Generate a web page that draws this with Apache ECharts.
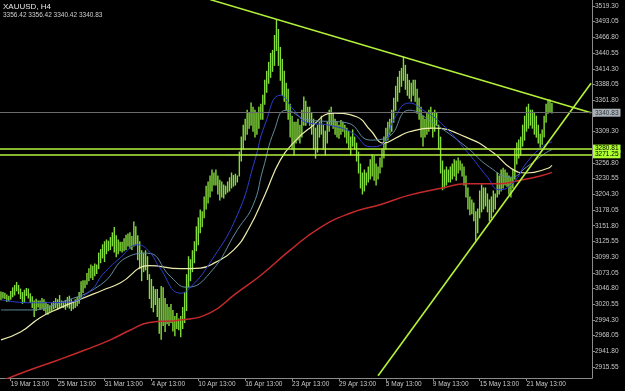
<!DOCTYPE html>
<html><head><meta charset="utf-8">
<script src="https://cdn.jsdelivr.net/npm/echarts@6/dist/echarts.min.js"></script>
<style>html,body{margin:0;padding:0;background:#000}#c{width:625px;height:391px}</style>
</head><body><div id="c"></div>
<script>
const symbolTitle = 'XAUUSD, H4';
const lastOHLC = '3356.42 3356.42 3340.42 3340.83';
const tickLabels = ['19 Mar 13:00','25 Mar 13:00','31 Mar 13:00','4 Apr 13:00','10 Apr 13:00','16 Apr 13:00','23 Apr 13:00','29 Apr 13:00','5 May 13:00','9 May 13:00','15 May 13:00','21 May 13:00'];
const tickBars = [5,29,53,77,101,125,149,173,197,221,245,269];
const slotCount = 303;
const priceTicks = [3519.30,3493.05,3466.80,3440.55,3414.30,3388.05,3361.80,3335.55,3309.30,3283.05,3256.80,3230.55,3204.30,3178.05,3151.80,3125.55,3099.30,3073.05,3046.80,3020.55,2994.30,2968.05,2941.80,2915.55];
const hiddenPriceLabels = [3335.55,3283.05];
const yMin = 2897.2, yMax = 3529.3;

const lows = [
3028,3031,
3030,3025,3026,3029,3033,3036,
3043,3038,3030,3022,3024,3035,
3031,3024,3015,3000,3010,3016,
3012,3014,3010,3005,3004,3008,
3010,3013,3015,3012,3014,3016,
3015,3012,3016,3014,3010,3013,
3015,3018,3022,3030,3040,3048,
3054,3060,3065,3062,3068,3072,
3080,3090,3098,3092,3105,3110,
3112,3118,3108,3100,3105,3110,
3108,3110,3112,3118,3114,3112,
3118,3120,3095,3080,3060,3075,
3078,3062,3030,3015,3008,3020,
3000,2972,2962,2985,2975,2988,
2985,2990,2976,2968,2980,2978,
2966,2980,2990,3010,3050,3060,
3075,3090,3110,3120,3140,3150,
3165,3180,3190,3200,3210,3220,
3220,3205,3195,3200,3198,3205,
3208,3210,3215,3218,3220,3225,
3235,3260,3280,3295,3305,3315,
3320,3310,3300,3305,3315,3330,
3330,3355,3375,3390,3400,3410,
3420,3445,3420,3395,3370,3360,
3345,3330,3300,3280,3270,3290,
3295,3290,3300,3320,3320,3325,
3320,3305,3280,3265,3275,3300,
3305,3280,3270,3290,3310,3320,
3315,3305,3300,3298,3305,3310,
3300,3290,3280,3270,3285,3280,
3260,3240,3215,3205,3210,3220,
3225,3230,3235,3228,3220,3230,
3240,3250,3265,3280,3295,3305,
3310,3325,3345,3360,3375,3385,
3395,3380,3370,3365,3360,3370,
3360,3340,3330,3300,3285,3300,
3305,3310,3315,3300,3310,3320,
3280,3240,3212,3215,3220,3225,
3225,3230,3235,3228,3240,3245,
3235,3220,3200,3180,3170,3172,
3160,3128,3140,3165,3175,3180,
3185,3175,3160,3165,3175,3180,
3200,3205,3210,3215,3220,3218,
3205,3200,3215,3230,3255,3265,
3270,3285,3295,3310,3315,3320,
3315,3305,3300,3290,3283,3288,
3300,3325,3340,3342,3340.42
];
const highs = [
3041,3040,
3039,3036,3034,3042,3048,3052,
3057,3052,3046,3040,3044,3047,
3046,3038,3033,3026,3029,3026,
3026,3030,3028,3024,3020,3018,
3022,3025,3030,3028,3035,3026,
3025,3027,3032,3034,3028,3024,
3028,3032,3040,3058,3060,3060,
3072,3080,3086,3084,3088,3086,
3106,3112,3120,3125,3128,3126,
3132,3140,3149,3135,3128,3124,
3124,3130,3136,3138,3140,3134,
3158,3150,3135,3125,3110,3106,
3110,3100,3070,3062,3050,3045,
3045,3030,3050,3048,3030,3020,
3015,3020,3010,3000,3005,2996,
3000,3015,3040,3070,3100,3095,
3110,3125,3150,3165,3178,3175,
3200,3218,3225,3235,3245,3240,
3245,3235,3228,3225,3220,3218,
3225,3232,3240,3236,3238,3235,
3275,3300,3320,3330,3345,3340,
3357,3350,3345,3340,3350,3355,
3370,3395,3410,3425,3440,3445,
3470,3496,3480,3450,3430,3410,
3390,3380,3355,3335,3325,3325,
3330,3320,3345,3367,3360,3350,
3350,3340,3330,3315,3320,3325,
3335,3320,3310,3325,3345,3350,
3340,3330,3325,3320,3328,3325,
3320,3315,3310,3300,3312,3300,
3290,3275,3255,3240,3245,3240,
3250,3262,3270,3268,3255,3250,
3265,3280,3300,3315,3325,3330,
3345,3365,3385,3400,3410,3415,
3434,3420,3405,3395,3390,3395,
3395,3380,3365,3350,3335,3330,
3340,3345,3350,3340,3345,3340,
3320,3300,3260,3245,3250,3245,
3250,3255,3262,3260,3265,3260,
3255,3250,3235,3215,3200,3195,
3190,3175,3180,3210,3220,3215,
3215,3205,3195,3200,3210,3205,
3240,3235,3245,3248,3245,3240,
3235,3232,3245,3280,3290,3295,
3300,3320,3335,3350,3355,3345,
3345,3340,3335,3320,3305,3312,
3335,3355,3362,3362,3356.42
];

const maRed = [[0,2892],[15,2911],[29,2927],[43,2944],[56,2961],[66,2977],[76,2990],[92,2994],[107,3006],[120,3038],[133,3069],[148,3111],[163,3148],[179,3173],[194,3187],[209,3203],[226,3215],[238,3222],[255,3222],[266,3228],[276,3235],[282,3241]];
const maYellow = [[0,2961],[10,2974],[20,2998],[30,3014],[40,3028],[52,3044],[61,3056],[76,3085],[92,3080],[102,3081],[110,3091],[119,3111],[127,3148],[135,3203],[143,3262],[151,3295],[158,3315],[170,3340],[182,3334],[189,3312],[196,3290],[203,3300],[209,3309],[221,3315],[238,3300],[252,3274],[261,3248],[269,3240],[280,3248],[282,3253]];
const maBlue = [[0,3028],[15,3023],[34,3024],[46,3044],[52,3070],[61,3098],[70,3120],[76,3108],[81,3083],[92,3039],[97,3049],[107,3090],[121,3170],[130,3262],[135,3320],[143,3370],[150,3345],[157,3324],[168,3320],[180,3307],[189,3284],[196,3290],[201,3329],[209,3357],[216,3345],[225,3324],[239,3274],[249,3233],[255,3212],[262,3223],[269,3257],[277,3284],[282,3292]];
const maTeal = [[0,3011],[15,3011],[30,3023],[51,3053],[65,3100],[75,3106],[87,3066],[95,3049],[107,3073],[121,3145],[129,3186],[134,3245],[140,3312],[146,3345],[157,3329],[177,3324],[189,3295],[198,3300],[209,3345],[221,3324],[238,3284],[250,3250],[261,3233],[269,3250],[279,3274],[282,3279]];

const trendDown = [[107,3530],[302,3340.8]];
const trendUp = [[193,2901],[302,3390]];
const levelLines = [3280.81, 3271.25];
const lastPrice = 3340.83;

const categories = Array.from({length: slotCount}, (_, i) => String(i));
const labelAt = {};
tickBars.forEach((b, k) => labelAt[b] = tickLabels[k]);
const showTick = (i) => labelAt[i] !== undefined;

const GREEN = '#84dc3c';
const LIME = '#b4f23a';
const font = 'Liberation Sans, Arial, sans-serif';

const chart = echarts.init(document.getElementById('c'), null, {renderer: 'canvas'});
const lbl = {show: true, position: 'end', distance: 1, fontSize: 6.5, fontFamily: font, padding: [1, 2, 0, 2], formatter: p => Number(p.value).toFixed(2)};

chart.setOption({
  backgroundColor: '#000',
  animation: false,
  grid: {left: 0, right: 33, top: 0, bottom: 13},
  graphic: [
    {type: 'text', left: 3, top: 3, style: {text: symbolTitle, fill: '#e6e6e6', font: '8px ' + font}},
    {type: 'text', left: 3, top: 12, style: {text: lastOHLC, fill: '#d0d0d0', font: '6.5px ' + font}}
  ],
  xAxis: {
    type: 'category', data: categories, boundaryGap: true,
    axisLine: {show: true, lineStyle: {color: '#8a8a8a', width: 1}},
    axisTick: {show: true, interval: showTick, alignWithLabel: true, length: 3, lineStyle: {color: '#8a8a8a'}},
    axisLabel: {show: true, interval: showTick, formatter: (v, i) => labelAt[i] || '', align: 'left', margin: 3, color: '#c8c8c8', fontSize: 6.5, fontFamily: font},
    splitLine: {show: false}
  },
  yAxis: {
    type: 'value', position: 'right', min: yMin, max: yMax,
    axisLine: {show: true, lineStyle: {color: '#8a8a8a', width: 1}},
    axisTick: {show: true, customValues: priceTicks, length: 3, lineStyle: {color: '#8a8a8a'}},
    axisLabel: {show: true, customValues: priceTicks.filter(v => !hiddenPriceLabels.includes(v)), formatter: v => v.toFixed(2), margin: 3, color: '#c8c8c8', fontSize: 6.5, fontFamily: font},
    splitLine: {show: false}
  },
  series: [
    {
      type: 'custom', z: 2,
      data: lows.map((l, i) => [i, l, highs[i]]),
      encode: {x: 0, y: [1, 2]},
      renderItem: (params, api) => {
        const i = api.value(0);
        const a = api.coord([i, api.value(1)]);
        const b = api.coord([i, api.value(2)]);
        return {type: 'line', shape: {x1: a[0], y1: a[1] + 0.5, x2: a[0], y2: b[1] - 0.5}, style: {stroke: GREEN, lineWidth: 1.4}};
      }
    },
    {type: 'line', z: 3, data: maRed, smooth: true, showSymbol: false, lineStyle: {color: '#c42a2a', width: 1.5}},
    {type: 'line', z: 3, data: maYellow, smooth: true, showSymbol: false, lineStyle: {color: '#ecebab', width: 1.2}},
    {type: 'line', z: 3, data: maTeal, smooth: true, showSymbol: false, lineStyle: {color: '#5f8c9c', width: 1}},
    {type: 'line', z: 3, data: maBlue, smooth: true, showSymbol: false, lineStyle: {color: '#2e3ed0', width: 1}},
    {type: 'line', z: 4, data: trendDown, showSymbol: false, lineStyle: {color: LIME, width: 1.6}},
    {type: 'line', z: 4, data: trendUp, showSymbol: false, lineStyle: {color: LIME, width: 1.6}},
    {
      type: 'line', z: 5, data: [],
      markLine: {
        silent: true, symbol: ['none', 'none'], animation: false,
        data: [
          {yAxis: lastPrice, lineStyle: {color: '#6c6c6c', width: 1, type: 'solid'}, label: Object.assign({}, lbl, {backgroundColor: '#a8b0b8', color: '#30343a'})},
          ...levelLines.map(v => ({yAxis: v, lineStyle: {color: LIME, width: 1.6, type: 'solid'}, label: Object.assign({}, lbl, {backgroundColor: '#adff2f', color: '#000'})}))
        ]
      }
    }
  ]
});
</script></body></html>
